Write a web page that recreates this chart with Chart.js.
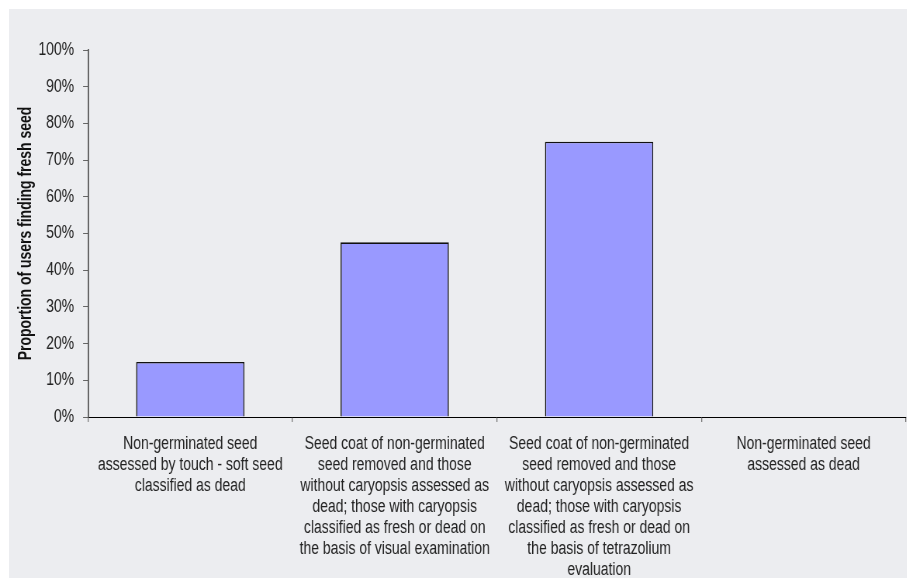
<!DOCTYPE html>
<html>
<head>
<meta charset="utf-8">
<script src="https://cdn.jsdelivr.net/npm/chart.js@4/dist/chart.umd.min.js"></script>
<style>
  html, body { margin: 0; padding: 0; background: #fff; overflow: hidden; }
  #panel { position: absolute; left: 9px; top: 9px; width: 898px; height: 569px; background: #ecedf0; }
  /* the chart is laid out wider and squeezed back, which gives the narrow lettering */
  #wrap { position: absolute; left: 0; top: 0; height: 579px; transform-origin: 0 0; }
</style>
</head>
<body>
<div id="panel"></div>
<div id="wrap"><canvas id="chart"></canvas></div>
<script>
const methods = [
  ["Non-germinated seed", "assessed by touch - soft seed", "classified as dead"],
  ["Seed coat of non-germinated", "seed removed and those", "without caryopsis assessed as", "dead; those with caryopsis", "classified as fresh or dead on", "the basis of visual examination"],
  ["Seed coat of non-germinated", "seed removed and those", "without caryopsis assessed as", "dead; those with caryopsis", "classified as fresh or dead on", "the basis of tetrazolium", "evaluation"],
  ["Non-germinated seed", "assessed as dead"]
];
const freshShare = [15, 47.6, 75, 0];
const yTicks = [0, 10, 20, 30, 40, 50, 60, 70, 80, 90, 100];
const yTitle = "Proportion of users finding fresh seed";

const SX = 0.775;
const wrap = document.getElementById("wrap");
wrap.style.width = (909 / SX) + "px";
wrap.style.transform = "scaleX(" + SX + ")";

const family = "'Liberation Sans', Arial, sans-serif";
const font = { family: family, size: 18 };

// rotated axis title, narrowed along its own length rather than across it
const sideTitle = {
  id: "sideTitle",
  afterDraw(chart) {
    const ctx = chart.ctx;
    const area = chart.chartArea;
    ctx.save();
    ctx.font = "bold 18px " + family;
    ctx.fillStyle = "#111";
    ctx.textAlign = "center";
    ctx.textBaseline = "middle";
    ctx.translate(26 / SX, (area.top + area.bottom) / 2);
    ctx.scale(1 / SX, 1);
    ctx.rotate(-Math.PI / 2);
    ctx.scale(SX, 1);
    ctx.fillText(yTitle, 0, 0);
    ctx.restore();
  }
};

new Chart(document.getElementById("chart"), {
  type: "bar",
  data: {
    labels: methods,
    datasets: [{
      data: freshShare,
      backgroundColor: "#9999ff",
      borderColor: "#111",
      borderWidth: 1.6,
      barPercentage: 0.53,
      categoryPercentage: 1
    }]
  },
  plugins: [sideTitle],
  options: {
    responsive: true,
    maintainAspectRatio: false,
    animation: false,
    layout: { padding: { top: 50, right: 4 / SX, left: 0, bottom: 0 } },
    plugins: { legend: { display: false }, tooltip: { enabled: false } },
    scales: {
      x: {
        grid: { drawOnChartArea: false, drawTicks: true, tickLength: 5, color: "#777", lineWidth: 1.3, offset: true },
        border: { display: true, color: "#000", width: 1 },
        ticks: { font: { ...font, lineHeight: 21 / 18 }, color: "#222", padding: 12, maxRotation: 0, autoSkip: false },
        afterFit: s => { s.height = 162; }
      },
      y: {
        min: 0,
        max: 100,
        afterBuildTicks: s => { s.ticks = yTicks.map(v => ({ value: v })); },
        grid: { drawOnChartArea: false, drawTicks: true, tickLength: 5 / SX, color: "#666" },
        border: { display: true, color: "#555", width: 1.8 },
        ticks: { font: font, color: "#222", padding: 9 / SX, callback: v => v + "%" },
        afterFit: s => { s.width = 88 / SX; }
      }
    }
  }
});
</script>
</body>
</html>
